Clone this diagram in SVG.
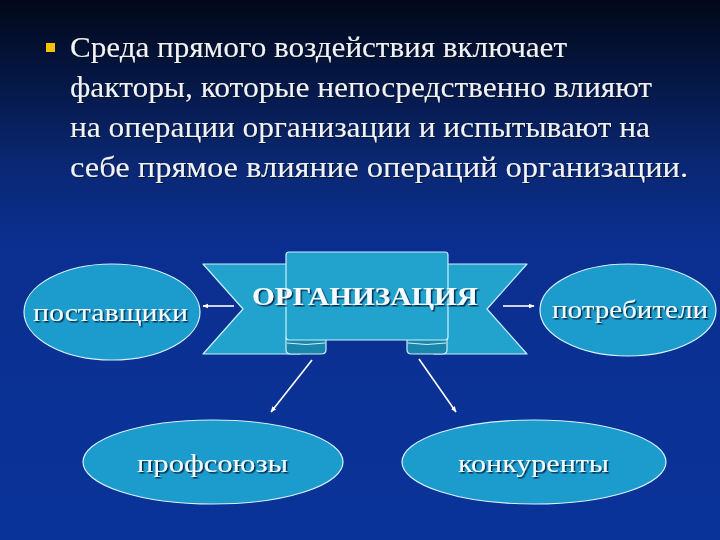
<svg xmlns="http://www.w3.org/2000/svg" width="720" height="540" viewBox="0 0 720 540">
  <defs>
    <linearGradient id="bg" x1="0" y1="0" x2="0" y2="1">
      <stop offset="0" stop-color="#020818"/>
      <stop offset="0.12" stop-color="#05143c"/>
      <stop offset="0.3" stop-color="#0a2772"/>
      <stop offset="0.45" stop-color="#0b2f90"/>
      <stop offset="1" stop-color="#0a3399"/>
    </linearGradient>
    <filter id="sh" x="-10%" y="-30%" width="120%" height="160%">
      <feDropShadow dx="1.5" dy="1.5" stdDeviation="0.6" flood-color="#021a40" flood-opacity="0.9"/>
    </filter>
    <filter id="sh2" x="-5%" y="-30%" width="110%" height="160%">
      <feDropShadow dx="1" dy="1" stdDeviation="0.5" flood-color="#000814" flood-opacity="0.7"/>
    </filter>
    <marker id="ah" viewBox="0 0 10 10" refX="9" refY="5" markerWidth="6" markerHeight="6" orient="auto" markerUnits="userSpaceOnUse">
      <path d="M0,1 L10,5 L0,9 Z" fill="#ffffff"/>
    </marker>
    <style>
      .para { font-family: "Liberation Serif", serif; font-size: 29px; fill: #f0f2f6; filter: url(#sh2); }
      .lbl { font-family: "Liberation Serif", serif; font-size: 26px; fill: #f4fbff; filter: url(#sh); }
      .ell { fill: #1b9ccc; stroke: #d8f2fb; stroke-width: 1.2; }
      .rib { fill: #21a3cd; stroke: #c9f0fa; stroke-width: 1.2; stroke-linejoin: round; }
      .fold { fill: #1b86ac; stroke: #c9f0fa; stroke-width: 1.2; }
      .conn { stroke: #ffffff; stroke-width: 1.6; fill: none; marker-end: url(#ah); }
    </style>
  </defs>

  <rect x="0" y="0" width="720" height="540" fill="url(#bg)"/>

  <g id="bullet-text">
    <rect x="46" y="43" width="9" height="9" fill="#f5c400"/>
    <text class="para" x="70" y="57" textLength="497" lengthAdjust="spacingAndGlyphs">Среда прямого воздействия включает</text>
    <text class="para" x="70" y="97" textLength="582" lengthAdjust="spacingAndGlyphs">факторы, которые непосредственно влияют</text>
    <text class="para" x="70" y="137" textLength="580" lengthAdjust="spacingAndGlyphs">на операции организации и испытывают на</text>
    <text class="para" x="70" y="177" textLength="618" lengthAdjust="spacingAndGlyphs">себе прямое влияние операций организации.</text>
  </g>

  <g id="organization">
    <polygon class="rib" points="203,264 300,264 300,354 203,354 243,309"/>
    <polygon class="rib" points="527,264 434,264 434,354 527,354 487,309"/>
    <path class="fold" d="M286,338 L326,338 L326,350 Q326,354 321,354 L291,354 Q286,354 286,350 Z"/>
    <path class="fold" d="M407,338 L447,338 L447,350 Q447,354 442,354 L412,354 Q407,354 407,350 Z"/>
    <path d="M287,343 Q306,346 325,343 M408,343 Q427,346 446,343" stroke="#c9f0fa" stroke-width="1" fill="none"/>
    <rect class="rib" x="286" y="252" width="162" height="88" rx="3"/>
    <text class="lbl" x="252" y="305" font-weight="bold" font-size="28" textLength="226" lengthAdjust="spacingAndGlyphs">ОРГАНИЗАЦИЯ</text>
  </g>

  <g id="suppliers">
    <ellipse class="ell" cx="112" cy="312" rx="88" ry="48"/>
    <text class="lbl" x="33" y="321" textLength="155" lengthAdjust="spacingAndGlyphs">поставщики</text>
  </g>

  <g id="consumers">
    <ellipse class="ell" cx="628" cy="310" rx="88" ry="46"/>
    <text class="lbl" x="552" y="318" textLength="156" lengthAdjust="spacingAndGlyphs">потребители</text>
  </g>

  <g id="unions">
    <ellipse class="ell" cx="213" cy="462" rx="130" ry="42"/>
    <text class="lbl" x="137" y="472" textLength="151" lengthAdjust="spacingAndGlyphs">профсоюзы</text>
  </g>

  <g id="competitors">
    <ellipse class="ell" cx="534" cy="462" rx="132" ry="42"/>
    <text class="lbl" x="458" y="472" textLength="151" lengthAdjust="spacingAndGlyphs">конкуренты</text>
  </g>

  <g id="connectors">
    <line class="conn" x1="234" y1="306" x2="203" y2="306"/>
    <line class="conn" x1="503" y1="306" x2="534" y2="306"/>
    <line class="conn" x1="312" y1="360" x2="271" y2="412"/>
    <line class="conn" x1="419" y1="359" x2="456" y2="412"/>
  </g>
</svg>
